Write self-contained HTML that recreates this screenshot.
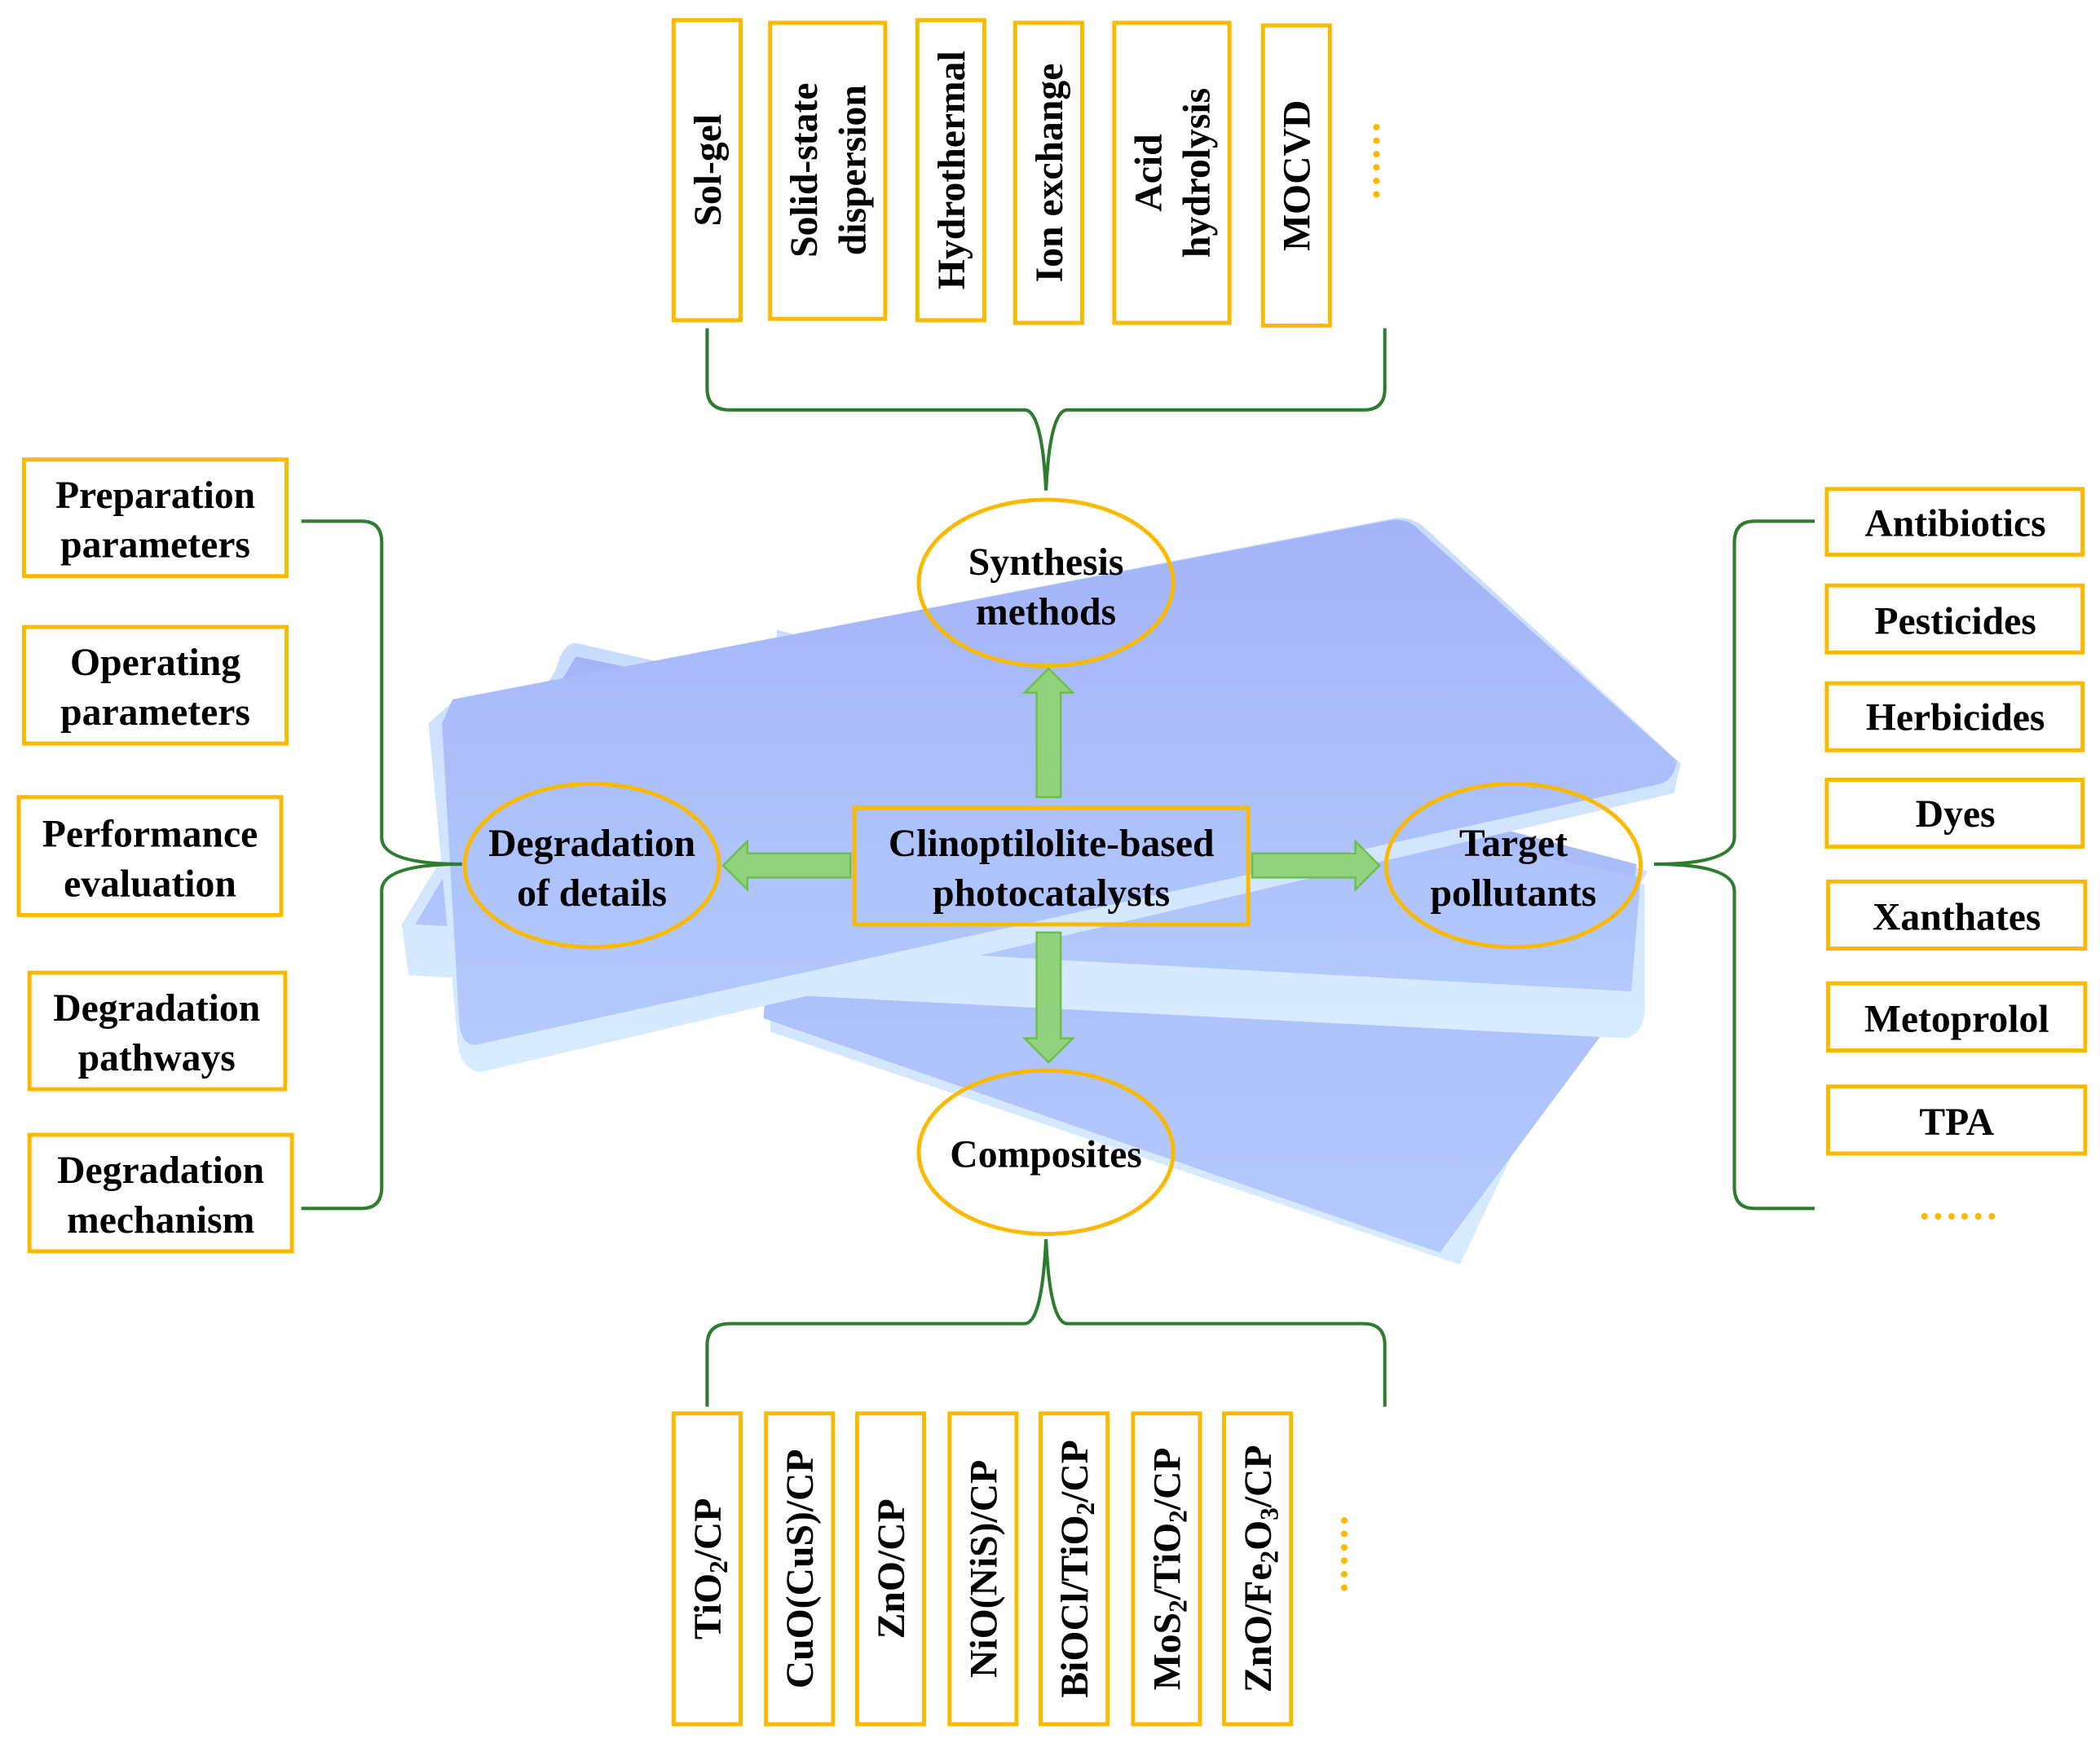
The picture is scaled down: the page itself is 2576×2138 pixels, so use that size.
<!DOCTYPE html>
<html><head><meta charset="utf-8"><style>
html,body{margin:0;padding:0;background:#fff;}
svg{display:block;}
text{font-family:"Liberation Serif",serif;font-weight:bold;fill:#000;}
</style></head><body>
<svg width="2576" height="2138" viewBox="0 0 1568 1301" preserveAspectRatio="none" xmlns="http://www.w3.org/2000/svg">
<defs>
<linearGradient id="g1" x1="0" y1="0" x2="0" y2="1"><stop offset="0" stop-color="#a3b4f8"/><stop offset="1" stop-color="#b4cafd"/></linearGradient>
<linearGradient id="g2" x1="0" y1="0" x2="0" y2="1"><stop offset="0" stop-color="#c8dcff"/><stop offset="1" stop-color="#d8ecff"/></linearGradient>
</defs>
<!-- plates -->
<path d="M1090,944 L575,770 L580,470 L1230,650 Z" fill="url(#g2)"/>
<path d="M1075,935 L570,760 L590,480 L1222,645 L1205,760 Z" fill="url(#g1)"/>
<path d="M300,690 L305,728 L1215,775 Q1230,770 1228,745 L1228,660 L430,480 Q420,480 415,500 Z" fill="url(#g2)"/>
<path d="M310,690 L430,490 L1225,655 L1218,740 Z" fill="url(#g1)"/>
<path d="M340,522 L1040,387 Q1055,385 1065,395 L1255,570 L1250,592 L360,800 Q345,800 342,780 L320,540 Z" fill="url(#g2)"/>
<path d="M338,522 L1040,388 Q1052,387 1060,396 L1252,568 Q1250,582 1240,585 L355,780 Q345,780 343,765 L330,540 Z" fill="url(#g1)"/>
<!-- brackets -->
<g fill="none" stroke="#2e7d2e" stroke-width="2.5">
<path d="M528,245 L528,290 Q528,306 545,306 L765,306 Q778,306 781,366 Q784,306 797,306 L1018,306 Q1034,306 1034,290 L1034,245"/>
<path d="M528,1050 L528,1004 Q528,988 545,988 L765,988 Q778,988 781,925 Q784,988 797,988 L1018,988 Q1034,988 1034,1004 L1034,1050"/>
<path d="M225,389 L270,389 Q285,389 285,405 L285,625 Q285,645 345,645 Q285,645 285,665 L285,886 Q285,902 270,902 L225,902"/>
<path d="M1355,389 L1310,389 Q1295,389 1295,405 L1295,625 Q1295,645 1235,645 Q1295,645 1295,665 L1295,886 Q1295,902 1310,902 L1355,902"/>
</g>
<!-- arrows -->
<g fill="#92d17e" stroke="#6cc04a" stroke-width="1.5">
<path d="M774,595 L774,517 L765,517 L783,499 L801,517 L792,517 L792,595 Z"/>
<path d="M774,696 L774,775 L765,775 L783,793 L801,775 L792,775 L792,696 Z"/>
<path d="M635,637 L558,637 L558,628 L540,646 L558,664 L558,655 L635,655 Z"/>
<path d="M935,637 L1012,637 L1012,628 L1030,646 L1012,664 L1012,655 L935,655 Z"/>
</g>
<!-- ellipses -->
<g fill="none" stroke="#fbb900" stroke-width="3">
<ellipse cx="781" cy="435" rx="95" ry="62"/>
<ellipse cx="442" cy="646" rx="95" ry="61"/>
<ellipse cx="1130" cy="646" rx="95" ry="61"/>
<ellipse cx="781" cy="860" rx="95" ry="61"/>
</g>
<g font-size="29" text-anchor="middle">
<text x="781" y="429">Synthesis</text><text x="781" y="466">methods</text>
<text x="442" y="639">Degradation</text><text x="442" y="676">of details</text>
<text x="1130" y="639">Target</text><text x="1130" y="676">pollutants</text>
<text x="781" y="871">Composites</text>
</g>
<!-- center box -->
<rect x="638" y="603" width="294" height="87" fill="none" stroke="#fbb900" stroke-width="3"/>
<g font-size="29" text-anchor="middle">
<text x="785" y="639">Clinoptilolite-based</text><text x="785" y="676">photocatalysts</text>
</g>
<!-- left boxes -->
<g fill="none" stroke="#fbb900" stroke-width="3">
<rect x="18" y="343" width="196" height="87"/>
<rect x="18" y="468" width="196" height="87"/>
<rect x="14" y="595" width="196" height="88"/>
<rect x="22" y="726" width="191" height="87"/>
<rect x="22" y="847" width="196" height="87"/>
</g>
<g font-size="29" text-anchor="middle">
<text x="116" y="379">Preparation</text><text x="116" y="416">parameters</text>
<text x="116" y="504">Operating</text><text x="116" y="541">parameters</text>
<text x="112" y="632">Performance</text><text x="112" y="669">evaluation</text>
<text x="117" y="762">Degradation</text><text x="117" y="799">pathways</text>
<text x="120" y="883">Degradation</text><text x="120" y="920">mechanism</text>
</g>
<!-- right boxes -->
<g fill="none" stroke="#fbb900" stroke-width="3">
<rect x="1364" y="365" width="191" height="49"/>
<rect x="1364" y="437" width="191" height="50"/>
<rect x="1364" y="510" width="191" height="50"/>
<rect x="1364" y="582" width="191" height="50"/>
<rect x="1365" y="658" width="192" height="50"/>
<rect x="1365" y="734" width="192" height="50"/>
<rect x="1365" y="811" width="192" height="50"/>
</g>
<g font-size="29" text-anchor="middle">
<text x="1460" y="400">Antibiotics</text>
<text x="1460" y="473">Pesticides</text>
<text x="1460" y="545">Herbicides</text>
<text x="1460" y="617">Dyes</text>
<text x="1461" y="694">Xanthates</text>
<text x="1461" y="770">Metoprolol</text>
<text x="1461" y="847">TPA</text>
</g>
<text x="1462" y="910" font-size="30" text-anchor="middle" style="fill:#fbb900">……</text>
<!-- top boxes -->
<g fill="none" stroke="#fbb900" stroke-width="3">
<rect x="503" y="15" width="50" height="224"/>
<rect x="575" y="17" width="86" height="221"/>
<rect x="685" y="15" width="50" height="224"/>
<rect x="758" y="17" width="50" height="224"/>
<rect x="832" y="17" width="86" height="224"/>
<rect x="943" y="19" width="50" height="224"/>
</g>
<g font-size="29" text-anchor="middle">
<text transform="translate(538,127) rotate(-90)">Sol-gel</text>
<text transform="translate(610,127) rotate(-90)">Solid-state</text>
<text transform="translate(646,127) rotate(-90)">dispersion</text>
<text transform="translate(720,127) rotate(-90)">Hydrothermal</text>
<text transform="translate(793,129) rotate(-90)">Ion exchange</text>
<text transform="translate(867,129) rotate(-90)">Acid</text>
<text transform="translate(903,129) rotate(-90)">hydrolysis</text>
<text transform="translate(978,131) rotate(-90)">MOCVD</text>
</g>
<text transform="translate(1030,120) rotate(-90)" font-size="30" text-anchor="middle" style="fill:#fbb900">……</text>
<!-- bottom boxes -->
<g fill="none" stroke="#fbb900" stroke-width="3">
<rect x="503" y="1055" width="50" height="232"/>
<rect x="572" y="1055" width="50" height="232"/>
<rect x="640" y="1055" width="50" height="232"/>
<rect x="709" y="1055" width="50" height="232"/>
<rect x="777" y="1055" width="50" height="232"/>
<rect x="846" y="1055" width="50" height="232"/>
<rect x="914" y="1055" width="50" height="232"/>
</g>
<g font-size="29" text-anchor="middle">
<text transform="translate(538,1171) rotate(-90)">TiO<tspan font-size="19" dy="5">2</tspan><tspan dy="-5">/CP</tspan></text>
<text transform="translate(607,1171) rotate(-90)">CuO(CuS)/CP</text>
<text transform="translate(675,1171) rotate(-90)">ZnO/CP</text>
<text transform="translate(744,1171) rotate(-90)">NiO(NiS)/CP</text>
<text transform="translate(812,1171) rotate(-90)">BiOCl/TiO<tspan font-size="19" dy="5">2</tspan><tspan dy="-5">/CP</tspan></text>
<text transform="translate(881,1171) rotate(-90)">MoS<tspan font-size="19" dy="5">2</tspan><tspan dy="-5">/TiO</tspan><tspan font-size="19" dy="5">2</tspan><tspan dy="-5">/CP</tspan></text>
<text transform="translate(949,1171) rotate(-90)">ZnO/Fe<tspan font-size="19" dy="5">2</tspan><tspan dy="-5">O</tspan><tspan font-size="19" dy="5">3</tspan><tspan dy="-5">/CP</tspan></text>
</g>
<text transform="translate(1006,1160) rotate(-90)" font-size="30" text-anchor="middle" style="fill:#fbb900">……</text>
</svg>
</body></html>
